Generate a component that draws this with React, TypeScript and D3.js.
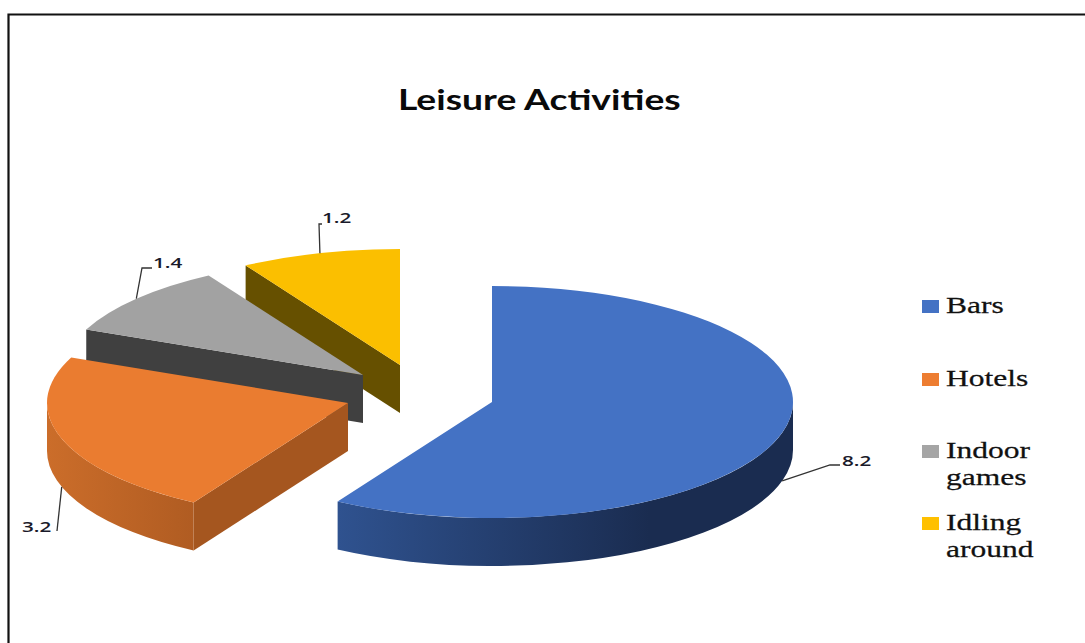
import React from "react";
import * as d3 from "d3";

const categories = ["Bars", "Hotels", "Indoor games", "Idling around"];
const values = [8.2, 3.2, 1.4, 1.2];
const topColors = ["#4472c4", "#ea7c30", "#a2a2a2", "#fbbf00"];
const faceColors = ["#1a2c50", "#a5561f", "#404040", "#665000"];
const legendColors = ["#4472c4", "#ed7d31", "#a5a5a5", "#ffc000"];
const legendLines = [["Bars"], ["Hotels"], ["Indoor", "games"], ["Idling", "around"]];
const legendY = [306, 379, 451, 523];
const sliceCenters = [[492, 402], [348, 403], [363, 375], [400, 365]];
const labelElbows = [[830, 465], [57, 531], [142, 268], [319, 224]];
const labelEnds = [[840, 465], [57, 531], [152, 268], [322, 224]];
const labelPos = [[842, 460], [22, 526], [153, 262], [322, 217]];

const RX = 301, RY = 116, DEPTH = 48;

export default function App() {
  const arcs = d3.pie<number>().sort(null)(values);
  const arc = d3.arc<d3.PieArcDatum<number>>().innerRadius(0).outerRadius(RX);
  const pt = (i: number, a: number, dz = 0): [number, number] => [
    sliceCenters[i][0] + RX * Math.sin(a),
    sliceCenters[i][1] - RY * Math.cos(a) + dz,
  ];
  const order = [3, 2, 1, 0];
  return (
    <svg width={1085} height={643} style={{ position: "absolute", left: 0, top: 0, display: "block", background: "#fff" }}>
      <defs>
        <linearGradient id="wall0" gradientUnits="userSpaceOnUse" x1={338} x2={650} y1={0} y2={0}>
          <stop offset="0" stopColor="#2f528f" />
          <stop offset="1" stopColor="#1a2c50" />
        </linearGradient>
        <linearGradient id="wall1" gradientUnits="userSpaceOnUse" x1={48} x2={194} y1={0} y2={0}>
          <stop offset="0" stopColor="#cb6d2a" />
          <stop offset="1" stopColor="#b05c22" />
        </linearGradient>
      </defs>
      <path d="M1085,14.5 H8.5 V643" fill="none" stroke="#111" strokeWidth={2.2} />
      <text transform="translate(398,110) scale(1.33,1)" fontFamily="Lato" fontWeight={700} fontSize={28} fill="#0a0a0a">Leisure Activities</text>
      {order.map((i) => {
        const d = arcs[i];
        const [cx, cy] = sliceCenters[i];
        const a0 = Math.max(d.startAngle, Math.PI / 2);
        const a1 = Math.min(d.endAngle, (3 * Math.PI) / 2);
        const showWall = a1 > a0;
        const p0 = pt(i, a0), p1 = pt(i, a1), p1b = pt(i, a1, DEPTH), p0b = pt(i, a0, DEPTH);
        const wall = `M${p0}A${RX},${RY} 0 0 1 ${p1}L${p1b}A${RX},${RY} 0 0 0 ${p0b}Z`;
        const s = pt(i, d.startAngle);
        const showFace = d.startAngle > Math.PI && d.startAngle < 2 * Math.PI;
        const face = `M${cx},${cy}L${s}L${s[0]},${s[1] + DEPTH}L${cx},${cy + DEPTH}Z`;
        return (
          <g key={categories[i]}>
            {showFace && <path d={face} fill={faceColors[i]} />}
            {showWall && <path d={wall} fill={`url(#wall${i})`} />}
            <path d={arc(d) as string} transform={`translate(${cx},${cy}) scale(1,${RY / RX})`} fill={topColors[i]} />
          </g>
        );
      })}
      {arcs.map((d, i) => {
        const mid = (d.startAngle + d.endAngle) / 2;
        const front = Math.cos(mid) < 0;
        const from = pt(i, mid, front ? DEPTH : 0);
        const pts: [number, number][] = [from, labelElbows[i] as [number, number], labelEnds[i] as [number, number]];
        return (
          <g key={`l${i}`}>
            <path d={d3.line()(pts) as string} fill="none" stroke="#333" strokeWidth={1.3} />
            <text transform={`translate(${labelPos[i][0]},${labelPos[i][1] + 6}) scale(1.38,1)`} fontFamily="Open Sans" fontWeight={600} fontSize={15} fill="#1a1a2a">
              {d3.format(".1f")(values[i])}
            </text>
          </g>
        );
      })}
      {categories.map((c, i) => (
        <g key={c}>
          <rect x={922} y={legendY[i] - 6} width={17} height={13} fill={legendColors[i]} />
          {legendLines[i].map((line, j) => (
            <text key={line} transform={`translate(946,${legendY[i] + 7 + j * 27}) scale(1.37,1)`} fontFamily="Liberation Serif" fontSize={23} fill="#111" stroke="#111" strokeWidth={0.25}>
              {line}
            </text>
          ))}
        </g>
      ))}
    </svg>
  );
}
